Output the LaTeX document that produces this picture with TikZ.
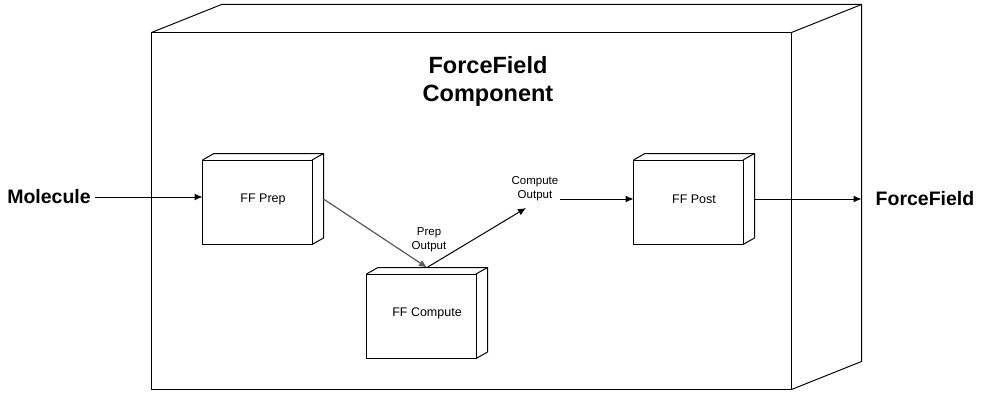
\documentclass[tikz,border=0pt]{standalone}
\usepackage{fontspec}
\setmainfont{Liberation Sans}
\usetikzlibrary{arrows.meta}
\usetikzlibrary{calc}
\usetikzlibrary{positioning}

\newcommand{\titre}{\fontsize{23.5}{28}\selectfont\bfseries}
\newcommand{\gros}{\fontsize{19.5}{23}\selectfont\bfseries}
\newcommand{\petit}{\fontsize{12.5}{15}\selectfont}
\newcommand{\mini}{\fontsize{11.5}{14}\selectfont}

% boite 3D : nom, centre, largeur, hauteur, dx, dy, texte
\newcommand{\boite}[7]{%
\node[minimum width=#3, minimum height=#4, inner sep=0pt, font=\petit] (#1) at (#2) {#7};
\draw (#1.south west) rectangle ($(#1.north east)+(-#5,#6)$);
\draw ($(#1.north west)+(0,#6)$) -- ($(#1.north west)+(#5,0)$) -- (#1.north east) -- ($(#1.south east)+(0,-#6)$) -- ($(#1.south east)+(-#5,0)$);
\draw ($(#1.north east)+(-#5,#6)$) -- (#1.north east);
}

\begin{document}
\begin{tikzpicture}[x=1pt,y=-1pt,line width=1pt,>={Latex[length=8pt,width=7pt]}]
\useasboundingbox (0,0) rectangle (983,404);

% Le composant
\boite{comp}{506.5,197}{709}{384}{70}{28}{}
\node[align=center, font=\titre] (titre) at (488,81) {ForceField\\Component};

% Les trois etapes
\boite{prep}{263,199}{120}{90}{11.5}{6.5}{FF Prep}
\boite{calc}{427,313}{120}{90}{11.5}{6.5}{FF Compute}
\boite{post}{694,199}{120}{90}{11.5}{6.5}{FF Post}

% Entree et sortie
\node[font=\gros] (mol) at (49,197) {Molecule};
\node[font=\gros] (ff) at (925,199) {ForceField};
\draw[->] (mol.east) -- (mol.east -| prep.west);
\draw[->] (post.east) -- (post.east -| comp.east);

% Sorties intermediaires
\node[align=center, font=\mini] (pout) at (429,240) {Prep\\Output};
\node[align=center, font=\mini, inner sep=1pt] (cout) at (535,189) {Compute\\Output};
\coordinate (cpt) at (526,208);
\draw[->,black!65,line width=1.2pt] (prep.east) -- (calc.north);
\draw[->] (calc.north) -- (cpt);
\draw[->] (post.west -| cout.east) -- (post.west);
\end{tikzpicture}
\end{document}
